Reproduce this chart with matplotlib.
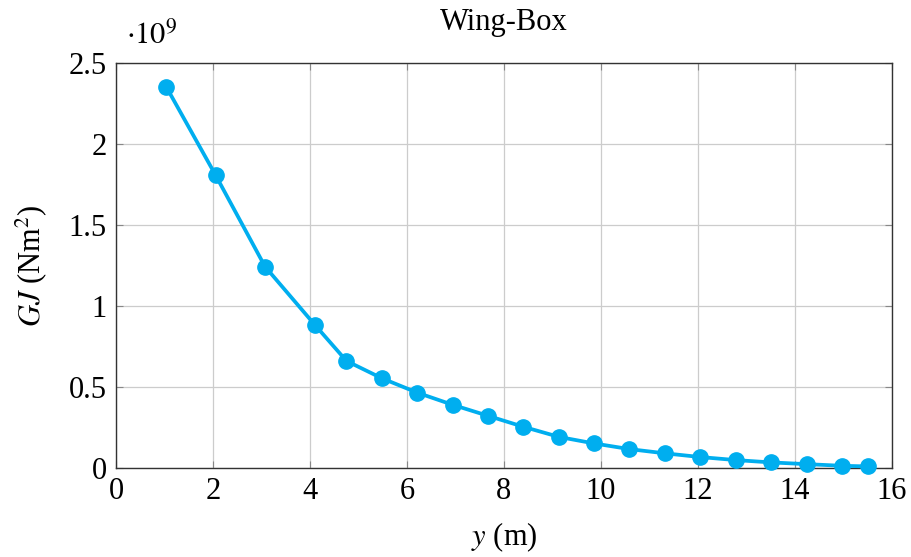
import numpy as np
import matplotlib
matplotlib.use("Agg")
from matplotlib import pyplot as plt
from matplotlib.ticker import FuncFormatter

# span position y (m) and torsional stiffness GJ (Nm^2)
spanY = [1.03, 2.05, 3.07, 4.10, 4.75, 5.48, 6.21, 6.94, 7.68, 8.40,
         9.14, 9.86, 10.59, 11.32, 12.05, 12.79, 13.50, 14.25, 14.97, 15.51]
stiffGJ = [2.355e9, 1.808e9, 1.243e9, 0.882e9, 0.660e9, 0.553e9, 0.464e9,
           0.389e9, 0.320e9, 0.253e9, 0.190e9, 0.150e9, 0.115e9, 0.089e9,
           0.066e9, 0.047e9, 0.033e9, 0.022e9, 0.012e9, 0.008e9]

xTicks = [0, 2, 4, 6, 8, 10, 12, 14, 16]
yTicks = [0, 0.5e9, 1e9, 1.5e9, 2e9, 2.5e9]

plt.rcParams['font.family'] = ['Liberation Serif', 'DejaVu Serif']
plt.rcParams['mathtext.fontset'] = 'stix'

fig = plt.figure(figsize=(9.12, 5.57), dpi=100)
ax = fig.add_axes([0.1275, 0.1603, 0.8502, 0.7261])

ax.plot(spanY, stiffGJ, color='#00aeef', linewidth=2.7,
        marker='o', markersize=11, zorder=3, clip_on=False)

ax.set_xlim(0, 16)
ax.set_ylim(0, 2.5e9)
ax.set_xticks(xTicks)
ax.set_yticks(yTicks)

# ticks shown in units of 1e9, factor written above the axis
ax.yaxis.set_major_formatter(FuncFormatter(lambda v, p: f"{v / 1e9:g}"))
ax.xaxis.set_major_formatter(FuncFormatter(lambda v, p: f"{v:g}"))

ax.grid(True, color='#cccccc', linewidth=0.9)
ax.set_axisbelow(True)
ax.tick_params(direction='in', top=True, right=True, length=5,
               color='#888888', labelsize=22, pad=7)
for sp in ax.spines.values():
    sp.set_linewidth(1.0)
    sp.set_color('#333333')

ax.set_title("Wing-Box", fontsize=22, pad=24)
ax.set_xlabel(r"$y$ (m)", fontsize=22, labelpad=10)
ax.set_ylabel(r"$GJ$ (Nm$^2$)", fontsize=22, labelpad=14)
ax.text(0.012, 1.03, r"$\cdot10^9$", transform=ax.transAxes,
        fontsize=22, ha='left', va='bottom')

plt.savefig("out.png", dpi=100)
